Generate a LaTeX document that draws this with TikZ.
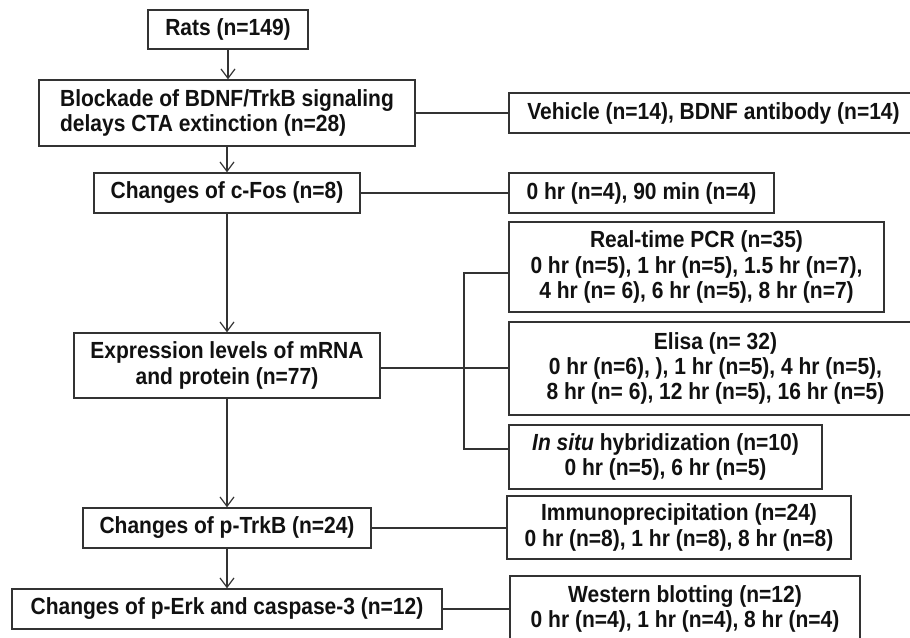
\documentclass[tikz,border=0pt]{standalone}
\usepackage{fontspec}
\setmainfont{Liberation Sans}[FakeStretch=0.9]
\usetikzlibrary{arrows.meta}
\definecolor{ln}{HTML}{333333}
\definecolor{tx}{HTML}{111111}
\tikzset{
  box/.style={draw=ln, line width=1.1pt, inner sep=0pt, align=center, text=tx,
    font=\bfseries\fontsize{17.5pt}{19pt}\selectfont},
  conn/.style={draw=ln, line width=1.1pt},
  arr/.style={conn, -{Straight Barb[length=7pt,width=10.5pt,line width=0.9pt]}},
}
\begin{document}
\begin{tikzpicture}[x=0.75pt,y=-0.75pt]
\useasboundingbox (0,0) rectangle (910,637);
\fill[white] (0,0) rectangle (910,637);
% left column
\node[box, minimum width=120pt, minimum height=29.25pt] (rats) at (228,29.5) {Rats (n=149)};
\node[box, align=left, minimum width=282pt, minimum height=49.5pt] (block) at (227,113) {Blockade of BDNF/TrkB signaling\\delays CTA extinction (n=28)};
\node[box, minimum width=199.5pt, minimum height=30pt] (cfos) at (227,193) {Changes of c-Fos (n=8)};
\node[box, minimum width=229.5pt, minimum height=48.75pt] (expr) at (227,365.5) {Expression levels of mRNA\\and protein (n=77)};
\node[box, minimum width=216pt, minimum height=30pt] (trkb) at (227,528) {Changes of p-TrkB (n=24)};
\node[box, minimum width=322.5pt, minimum height=30pt] (perk) at (227,609) {Changes of p-Erk and caspase-3 (n=12)};
% right column
\node[box, minimum width=306.75pt, minimum height=30pt] (veh) at (713.5,113) {Vehicle (n=14), BDNF antibody (n=14)};
\node[box, minimum width=198.75pt, minimum height=30pt] (zero) at (641.5,193) {0 hr (n=4), 90 min (n=4)};
\node[box, minimum width=281.25pt, minimum height=67.5pt] (pcr) at (696.5,267) {Real-time PCR (n=35)\\0 hr (n=5), 1 hr (n=5), 1.5 hr (n=7),\\4 hr (n= 6), 6 hr (n=5), 8 hr (n=7)};
\node[box, minimum width=309.75pt, minimum height=69.75pt] (elisa) at (715.5,368.5) {Elisa (n= 32)\\0 hr (n=6), ), 1 hr (n=5), 4 hr (n=5),\\8 hr (n= 6), 12 hr (n=5), 16 hr (n=5)};
\node[box, minimum width=234.75pt, minimum height=48pt] (insitu) at (665.5,457) {\textit{In situ} hybridization (n=10)\\0 hr (n=5), 6 hr (n=5)};
\node[box, minimum width=258pt, minimum height=47.25pt] (immuno) at (679,527.5) {Immunoprecipitation (n=24)\\0 hr (n=8), 1 hr (n=8), 8 hr (n=8)};
\node[box, minimum width=262.5pt, minimum height=49.5pt] (western) at (685,609) {Western blotting (n=12)\\0 hr (n=4), 1 hr (n=4), 8 hr (n=4)};
% arrows
\draw[arr] (rats.south) -- (rats.south |- block.north);
\draw[arr] (block.south) -- (cfos.north);
\draw[arr] (cfos.south) -- (expr.north);
\draw[arr] (expr.south) -- (trkb.north);
\draw[arr] (trkb.south) -- (perk.north);
% side links
\draw[conn] (block.east) -- (block.east -| veh.west);
\draw[conn] (cfos.east) -- (cfos.east -| zero.west);
\draw[conn] (trkb.east) -- (trkb.east -| immuno.west);
\draw[conn] (perk.east) -- (perk.east -| western.west);
\coordinate (bx) at (464,368);
\draw[conn] (expr.east |- bx) -- (bx -| elisa.west);
\draw[conn] ([yshift=-4.5pt]pcr.west) -| (bx) |- ([yshift=6pt]insitu.west);
\end{tikzpicture}
\end{document}
